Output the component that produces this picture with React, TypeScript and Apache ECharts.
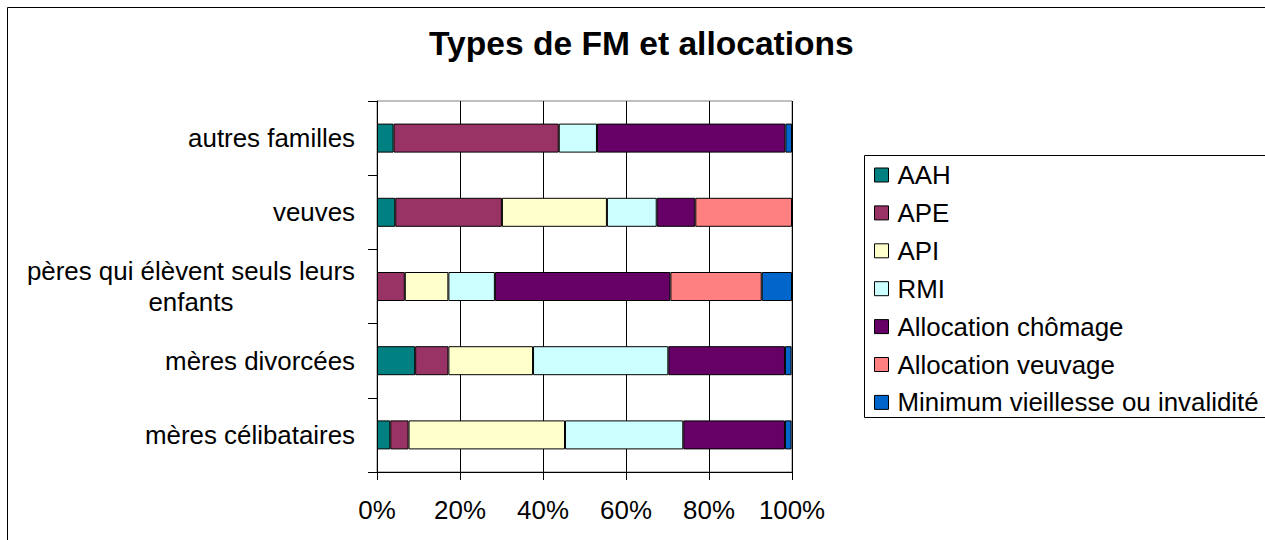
import React, { useEffect, useRef } from "react";
import * as echarts from "echarts";

const categories = [
  "mères célibataires",
  "mères divorcées",
  "pères qui élèvent seuls leurs\nenfants",
  "veuves",
  "autres familles",
];

const seriesNames = [
  "AAH",
  "APE",
  "API",
  "RMI",
  "Allocation chômage",
  "Allocation veuvage",
  "Minimum vieillesse ou invalidité",
];

const aah = [3.2, 9.2, 0, 4.4, 4.0];
const ape = [4.4, 8.0, 6.7, 25.7, 39.8];
const api = [37.7, 20.4, 10.5, 25.3, 0];
const rmi = [28.5, 32.6, 11.2, 12.0, 9.2];
const chomage = [24.5, 28.1, 42.3, 9.3, 45.4];
const veuvage = [0, 0, 22.0, 23.3, 0];
const minimum = [1.6, 1.6, 7.3, 0, 1.6];

const seriesValues = [aah, ape, api, rmi, chomage, veuvage, minimum];

const colors = ["#008080", "#993366", "#FFFFCC", "#CCFFFF", "#660066", "#FF8080", "#0066CC"];

const xTicks = [0, 20, 40, 60, 80, 100];

const FONT = "'Liberation Sans', Arial, sans-serif";
const FS = 25.9;

export default function App() {
  const ref = useRef<HTMLDivElement>(null);
  useEffect(() => {
    if (!ref.current) return;
    const chart = echarts.init(ref.current, null, { renderer: "svg" });
    const option: any = {
      animation: false,
      backgroundColor: "#fff",
      textStyle: { fontFamily: FONT },
      title: {
        text: "Types de FM et allocations",
        left: 429,
        top: 26,
        padding: 0,
        textStyle: { fontFamily: FONT, fontSize: 33.6, fontWeight: "bold", color: "#000" },
      },
      legend: {
        orient: "vertical",
        left: 874,
        top: 162,
        padding: 0,
        itemGap: 11.9,
        itemWidth: 14,
        itemHeight: 14,
        icon: "rect",
        itemStyle: { borderColor: "#000", borderWidth: 1 },
        textStyle: { fontFamily: FONT, fontSize: FS, color: "#000", padding: [0, 0, 0, 4] },
        data: seriesNames,
      },
      grid: {
        left: 377,
        right: 1265 - 792,
        top: 101,
        bottom: 540 - 472,
        show: true,
        borderColor: "#808080",
        borderWidth: 1,
        containLabel: false,
      },
      xAxis: {
        type: "value",
        min: xTicks[0],
        max: xTicks[xTicks.length - 1],
        interval: 20,
        axisLine: { show: true, lineStyle: { color: "#000", width: 1 } },
        axisTick: { show: true, length: 8, lineStyle: { color: "#000" } },
        splitLine: { show: true, lineStyle: { color: "#000", width: 1 } },
        axisLabel: {
          formatter: "{value}%",
          margin: 25,
          fontFamily: FONT,
          fontSize: FS,
          color: "#000",
        },
      },
      yAxis: {
        type: "category",
        data: categories,
        axisLine: { show: true, lineStyle: { color: "#000", width: 1 } },
        axisTick: { show: true, length: 9, alignWithLabel: false, lineStyle: { color: "#000" } },
        axisLabel: {
          margin: 22,
          align: "right",
          color: "#000",
          formatter: (v: string) =>
            v
              .split("\n")
              .map((l) => `{c|${l}}`)
              .join("\n"),
          rich: {
            c: { align: "center", fontFamily: FONT, fontSize: FS, lineHeight: 31, color: "#000" },
          },
        },
      },
      graphic: [
        {
          type: "rect",
          shape: { x: 7.5, y: 7.5, width: 1300, height: 600 },
          style: { fill: "none", stroke: "#000", lineWidth: 1 },
          silent: true,
        },
        {
          type: "rect",
          shape: { x: 864.5, y: 155.5, width: 500, height: 262 },
          style: { fill: "none", stroke: "#000", lineWidth: 1 },
          silent: true,
        },
      ],
      series: seriesNames.map((name, i) => ({
        name,
        type: "bar",
        stack: "total",
        barWidth: 29,
        itemStyle: { color: colors[i], borderColor: "#000", borderWidth: 1 },
        data: seriesValues[i].map((v) => (v === 0 ? "-" : v)),
      })),
    };
    chart.setOption(option);
    return () => chart.dispose();
  }, []);
  return (
    <div
      ref={ref}
      style={{ position: "absolute", left: 0, top: 0, width: 1265, height: 540 }}
    />
  );
}
